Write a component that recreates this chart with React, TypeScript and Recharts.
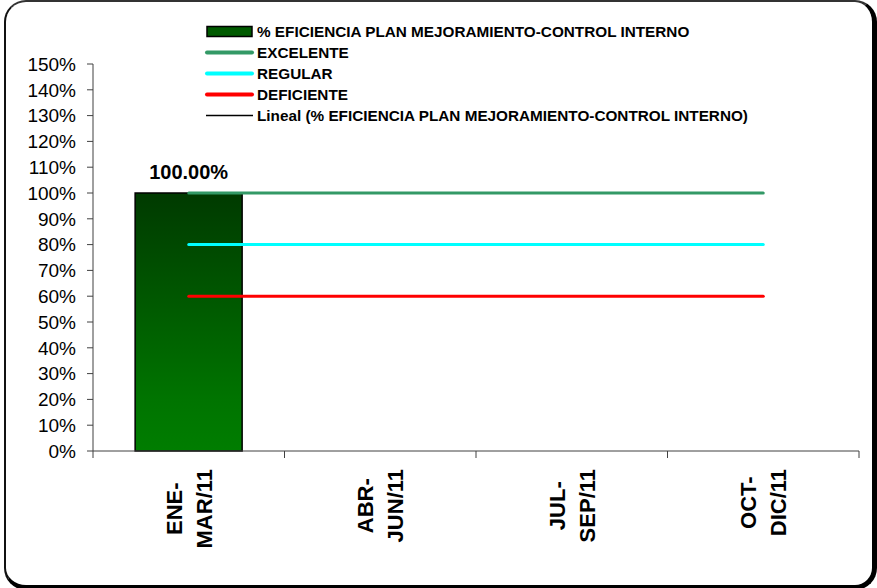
import React from 'react';
import { ComposedChart, Bar, Line, XAxis, YAxis, Legend, LabelList } from 'recharts';

// Quarters of 2011
const quarters = ['ENE-MAR/11', 'ABR-JUN/11', 'JUL-SEP/11', 'OCT-DIC/11'];
// % eficiencia plan mejoramiento - control interno (only first quarter reported)
const eficiencia = [100, null, null, null];
// reference levels
const excelente = [100, 100, 100, 100];
const regular = [80, 80, 80, 80];
const deficiente = [60, 60, 60, 60];
// y axis ticks (percent)
const yTicks = [0, 10, 20, 30, 40, 50, 60, 70, 80, 90, 100, 110, 120, 130, 140, 150];

const FONT = '"Liberation Sans", Arial, sans-serif';

const chartData = quarters.map((q, i) => ({
  quarter: q,
  eficiencia: eficiencia[i],
  excelente: excelente[i],
  regular: regular[i],
  deficiente: deficiente[i],
}));

const legendItems = [
  { label: '% EFICIENCIA PLAN MEJORAMIENTO-CONTROL INTERNO', kind: 'bar', color: '#005a00' },
  { label: 'EXCELENTE', kind: 'line', color: '#339966' },
  { label: 'REGULAR', kind: 'line', color: '#00ffff' },
  { label: 'DEFICIENTE', kind: 'line', color: '#ff0000' },
  { label: 'Lineal (% EFICIENCIA PLAN MEJORAMIENTO-CONTROL INTERNO)', kind: 'trend', color: '#000000' },
];

let measureCtx: CanvasRenderingContext2D | null = null;
const textWidth = (s: string, font: string) => {
  if (!measureCtx && typeof document !== 'undefined') {
    measureCtx = document.createElement('canvas').getContext('2d');
  }
  if (!measureCtx) return s.length * 13;
  measureCtx.font = font;
  return measureCtx.measureText(s).width;
};

const QuarterTick = (props: any) => {
  const { x, y, payload, index, visibleTicksCount } = props;
  const half = payload && payload.offset ? payload.offset : 95.75;
  const lines: string[] = String(payload.value).split(/(?<=-)/);
  const font = `bold 22px ${FONT}`;
  const longest = Math.max(...lines.map((l) => textWidth(l, font)));
  const mid = 18 + longest / 2;
  const isLast = index === (visibleTicksCount ?? quarters.length) - 1;
  return (
    <g>
      <line x1={x - half} y1={y} x2={x - half} y2={y + 7} stroke="#404040" strokeWidth={1} />
      {isLast && <line x1={x + half} y1={y} x2={x + half} y2={y + 7} stroke="#404040" strokeWidth={1} />}
      <g transform={`translate(${x},${y})`}>
        <text transform="rotate(-90)" textAnchor="middle" fontFamily={FONT} fontWeight="bold" fontSize={22} fill="#000">
          {lines.map((l, i) => (
            <tspan key={i} x={-mid} y={-7 + i * 30}>
              {l}
            </tspan>
          ))}
        </text>
      </g>
    </g>
  );
};

const ChartLegend = () => (
  <div style={{ fontFamily: FONT, fontWeight: 'bold', fontSize: 15.3, color: '#000' }}>
    {legendItems.map((it) => (
      <div key={it.label} style={{ display: 'flex', alignItems: 'center', height: 21, whiteSpace: 'nowrap' }}>
        <svg width={53} height={21} style={{ display: 'block' }}>
          {it.kind === 'bar' && (
            <rect x={3} y={5.5} width={45} height={10} fill={it.color} stroke="#000" strokeWidth={1.5} />
          )}
          {it.kind === 'line' && (
            <line x1={3} y1={10.5} x2={48} y2={10.5} stroke={it.color} strokeWidth={4} strokeLinecap="round" />
          )}
          {it.kind === 'trend' && <line x1={2} y1={10.5} x2={49} y2={10.5} stroke={it.color} strokeWidth={1.5} />}
        </svg>
        <span>{it.label}</span>
      </div>
    ))}
  </div>
);

export default function App() {
  return (
    <div style={{ position: 'absolute', left: 0, top: 0, width: 877, height: 588, overflow: 'hidden', background: '#fff' }}>
      <div
        style={{
          position: 'absolute',
          left: 4,
          top: 0,
          width: 873,
          height: 590,
          boxSizing: 'border-box',
          borderTop: '2px solid #333',
          borderLeft: '2px solid #111',
          borderRight: '5px solid #000',
          borderBottom: '5px solid #000',
          borderRadius: 22,
        }}
      />
      <div style={{ position: 'absolute', left: 0, top: 0 }}>
        <ComposedChart
          width={877}
          height={588}
          data={chartData}
          margin={{ top: 64, right: 18, bottom: 0, left: 0 }}
          barCategoryGap="22%"
        >
          <defs>
            <linearGradient id="effGrad" x1="0" y1="0" x2="0" y2="1">
              <stop offset="0%" stopColor="#003a00" />
              <stop offset="80%" stopColor="#007400" />
              <stop offset="100%" stopColor="#007d00" />
            </linearGradient>
          </defs>
          <XAxis
            dataKey="quarter"
            height={137}
            interval={0}
            axisLine={{ stroke: '#404040', strokeWidth: 1 }}
            tickLine={false}
            tickSize={0}
            tickMargin={0}
            tick={<QuarterTick />}
          />
          <YAxis
            width={93}
            domain={[0, 150]}
            ticks={yTicks}
            interval={0}
            axisLine={{ stroke: '#404040', strokeWidth: 1 }}
            tickLine={{ stroke: '#404040', strokeWidth: 1 }}
            tickSize={6}
            tickMargin={11}
            tickFormatter={(v: number) => `${v}%`}
            tick={{ fontFamily: FONT, fontSize: 19, fill: '#000' }}
          />
          <Legend
            layout="vertical"
            align="center"
            verticalAlign="middle"
            wrapperStyle={{ top: 21, left: 204, width: 'auto' }}
            content={<ChartLegend />}
          />
          <Bar dataKey="eficiencia" fill="url(#effGrad)" stroke="#000" strokeWidth={1.5} isAnimationActive={false}>
            <LabelList
              dataKey="eficiencia"
              position="top"
              offset={14}
              formatter={(v: any) => (v == null ? '' : `${Number(v).toFixed(2)}%`)}
              style={{ fontFamily: FONT, fontWeight: 'bold', fontSize: 20, fill: '#000' }}
            />
          </Bar>
          <Line dataKey="excelente" stroke="#339966" strokeWidth={3} strokeLinecap="round" dot={false} isAnimationActive={false} />
          <Line dataKey="regular" stroke="#00ffff" strokeWidth={3} strokeLinecap="round" dot={false} isAnimationActive={false} />
          <Line dataKey="deficiente" stroke="#ff0000" strokeWidth={3} strokeLinecap="round" dot={false} isAnimationActive={false} />
        </ComposedChart>
      </div>
    </div>
  );
}
